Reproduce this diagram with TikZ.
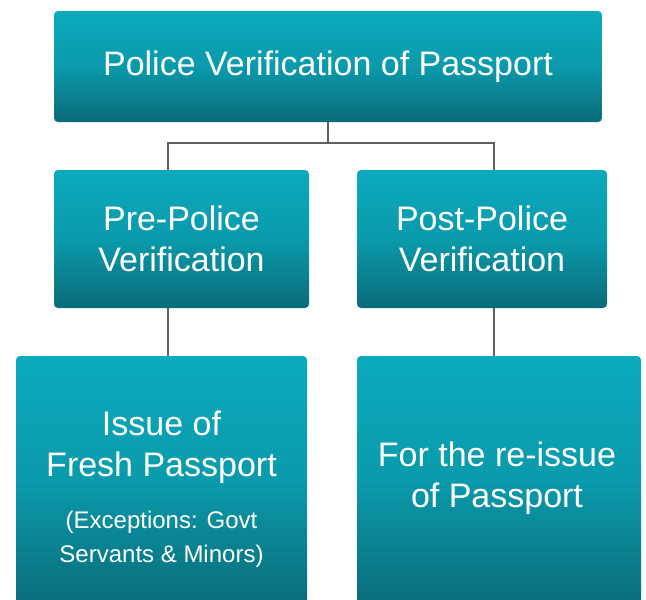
\documentclass[tikz,border=0pt]{standalone}
\usepackage{fontspec}
\setmainfont{Liberation Sans}
\begin{document}
\begin{tikzpicture}[x=1pt,y=-1pt,
  tealbox/.style={rectangle, rounded corners=4pt, inner sep=0pt,
    top color=boxtop, bottom color=boxbot, middle color=boxmid,
    text=white, align=center},
  conn/.style={draw=linegray, line width=1.6pt},
  bigtext/.style={font=\fontsize{34}{41}\selectfont}]
\definecolor{boxtop}{HTML}{0BAABD}
\definecolor{boxmid}{HTML}{0A9AAB}
\definecolor{boxbot}{HTML}{0A6B78}
\definecolor{linegray}{HTML}{606060}
\newcommand{\smallfnt}{\fontsize{24}{35}\selectfont}
\useasboundingbox (0,0) rectangle (646,600);
% boxes
\node[tealbox, minimum width=548pt, minimum height=111pt, bigtext] (top) at (328,66.5)
  {Police Verification of Passport};
\node[tealbox, minimum width=255pt, minimum height=138pt, bigtext] (pre) at (181.5,239)
  {Pre-Police\\Verification};
\node[tealbox, minimum width=250pt, minimum height=138pt, bigtext] (post) at (482,239)
  {Post-Police\\Verification};
\node[tealbox, minimum width=291pt, minimum height=250pt] (fresh) at (161.5,481) {};
\node[tealbox, minimum width=284pt, minimum height=250pt] (reissue) at (499,481) {};
% texts in lower boxes
\node[text=white, align=center, inner sep=0pt, anchor=north, bigtext] (freshtxt) at (161.5,411)
  {Issue of\\Fresh Passport\\[11pt]
   \smallfnt (Exceptions: Govt\\[-7pt]\smallfnt Servants \& Minors)};
\node[text=white, align=center, inner sep=0pt, bigtext] (reissuetxt) at (497,478)
  {For the re-issue\\of Passport};
% connectors
\coordinate (bus) at (328,143);
\coordinate (preTop) at (168,170);
\coordinate (postTop) at (494,170);
\draw[conn] (top.south) -- (bus);
\draw[conn] (bus) -| (preTop);
\draw[conn] (bus) -| (postTop);
\draw[conn] (preTop |- pre.south) -- (preTop |- fresh.north);
\draw[conn] (postTop |- post.south) -- (postTop |- reissue.north);
\end{tikzpicture}
\end{document}
